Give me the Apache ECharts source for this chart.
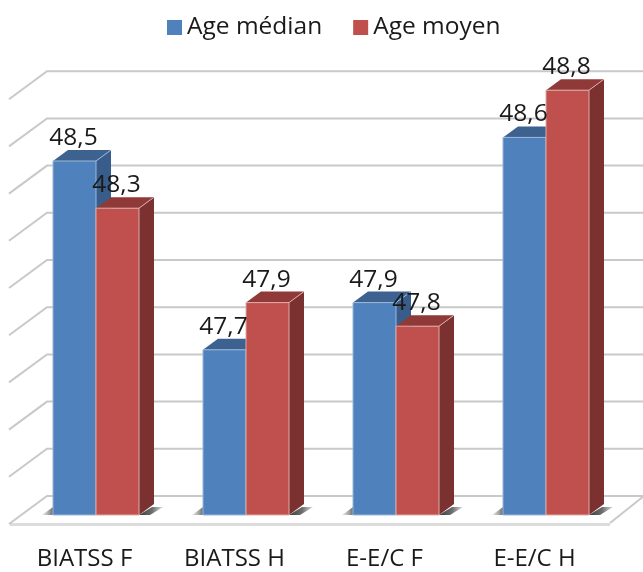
<!DOCTYPE html>
<html>
<head>
<meta charset="utf-8">
<style>html,body{margin:0;padding:0;background:#fff}#c{width:643px;height:572px}</style>
<script src="https://cdn.jsdelivr.net/npm/echarts@6/dist/echarts.min.js"></script>
</head>
<body>
<div id="c"></div>
<script>
var categories = ['BIATSS F', 'BIATSS H', 'E-E/C F', 'E-E/C H'];
var ageMedian = [48.5, 47.7, 47.9, 48.6];
var ageMoyen = [48.3, 47.9, 47.8, 48.8];
var gridTicks = [47, 47.2, 47.4, 47.6, 47.8, 48, 48.2, 48.4, 48.6, 48.8];

var FONT = '"Open Sans", sans-serif';
var DX = 15, DY = -11;
var BAR_RATIO = 0.2867;
var palette = {
  blue: {front: '#4f81bd', top: '#3d6290', side: '#385d8a', edge: '#9db8d8'},
  red: {front: '#c0504d', top: '#8f3a38', side: '#7a3130', edge: '#e0aaa8'}
};

function wallItem(params, api) {
  var v = api.value(1);
  var p = api.coord([0, v]);
  var cs = params.coordSys;
  var y = p[1] - 19;
  var lineStyle = {stroke: '#c9c9c9', lineWidth: 2, fill: null};
  var kids = [];
  if (params.dataIndex === 0) {
    var w = cs.x + cs.width;
    var fy = y + 27;
    kids.push({type: 'polygon', shape: {points: [[cs.x - 11, fy], [w - 11, fy], [w - 11, fy + 3], [cs.x - 11, fy + 3]]}, style: {fill: '#dcdcdc'}});
    kids.push({type: 'polyline', shape: {points: [[w - 11, fy], [w + 23, y]]}, style: lineStyle});
  }
  kids.push({type: 'polyline', shape: {points: [[cs.x - 12, y + 28], [cs.x + 26, y], [api.getWidth(), y]]}, style: lineStyle});
  return {type: 'group', children: kids};
}

function barItem(sign, colors) {
  return function (params, api) {
    var base = api.coord([api.value(0), gridTicks[0]]);
    var top = api.coord([api.value(0), api.value(1)]);
    var bw = api.size([1, 0])[0] * BAR_RATIO;
    var x0 = sign < 0 ? base[0] - bw : base[0];
    var x1 = x0 + bw;
    var yT = top[1], yB = base[1];
    var kids = [];
    var grad = function (stops) {
      return {type: 'linear', x: 0, y: 0, x2: 1, y2: 0, global: false, colorStops: stops};
    };
    if (sign < 0) {
      kids.push({type: 'polygon', z2: 1, shape: {points: [[x0 - 11, yB], [x0, yB + DY + 3], [x0, yB]]}, style: {fill: grad([{offset: 0, color: 'rgba(170,170,170,0.3)'}, {offset: 1, color: 'rgba(90,90,90,0.9)'}])}});
    } else {
      kids.push({type: 'polygon', z2: 1, shape: {points: [[x1, yB], [x1 + 13, yB + DY + 3], [x1 + 24, yB + DY + 3], [x1 + 11, yB]]}, style: {fill: grad([{offset: 0, color: '#3c3c3c'}, {offset: 0.55, color: '#6e6e6e'}, {offset: 1, color: '#dddddd'}])}});
    }
    var z = sign < 0 ? 2 : 3;
    kids.push({type: 'polygon', z2: z, shape: {points: [[x1, yT], [x1 + DX, yT + DY], [x1 + DX, yB + DY], [x1, yB]]}, style: {fill: colors.side}});
    kids.push({type: 'polygon', z2: z, shape: {points: [[x0, yT], [x0 + DX, yT + DY], [x1 + DX, yT + DY], [x1, yT]]}, style: {fill: colors.top}});
    kids.push({type: 'line', z2: z, shape: {x1: x1, y1: yT, x2: x1 + DX, y2: yT + DY}, style: {stroke: colors.edge, lineWidth: 1}});
    kids.push({type: 'rect', z2: z, shape: {x: x0, y: yT, width: bw, height: yB - yT}, style: {fill: colors.front, stroke: colors.edge, lineWidth: 1}});
    kids.push({type: 'text', z2: 100, style: {
      text: String(api.value(1)).replace('.', ','),
      x: (x0 + x1) / 2 - 1, y: yT - 23,
      align: 'center', verticalAlign: 'middle',
      font: '24.5px ' + FONT, fill: '#1a1a1a'
    }});
    return {type: 'group', children: kids};
  };
}

function pairs(values) {
  return values.map(function (v, i) { return [i, v]; });
}

var chart = echarts.init(document.getElementById('c'), null, {renderer: 'canvas'});
chart.setOption({
  animation: false,
  backgroundColor: '#ffffff',
  legend: {
    data: ['Age médian', 'Age moyen'],
    left: 162, top: 10,
    icon: 'rect', itemWidth: 15, itemHeight: 15, itemGap: 31,
    textStyle: {fontFamily: FONT, fontSize: 24.5, color: '#1a1a1a'}
  },
  grid: {left: 21, width: 600, top: 90.2, height: 424.8},
  xAxis: {
    type: 'category', data: categories,
    axisLine: {show: false}, axisTick: {show: false}, splitLine: {show: false},
    axisLabel: {margin: 32, fontFamily: FONT, fontSize: 24, color: '#1a1a1a', padding: [0, 23, 0, 0]}
  },
  yAxis: {type: 'value', min: gridTicks[0], max: gridTicks[gridTicks.length - 1], interval: 0.2, show: false, splitLine: {show: false}},
  series: [
    {type: 'custom', name: 'wall', renderItem: wallItem, data: gridTicks.map(function (t) { return [0, t]; }), encode: {x: 0, y: 1}, silent: true, clip: false},
    {type: 'custom', name: 'Age médian', renderItem: barItem(-1, palette.blue), data: pairs(ageMedian), encode: {x: 0, y: 1}, itemStyle: {color: palette.blue.front}, clip: false},
    {type: 'custom', name: 'Age moyen', renderItem: barItem(1, palette.red), data: pairs(ageMoyen), encode: {x: 0, y: 1}, itemStyle: {color: palette.red.front}, clip: false}
  ]
});
</script>
</body>
</html>
